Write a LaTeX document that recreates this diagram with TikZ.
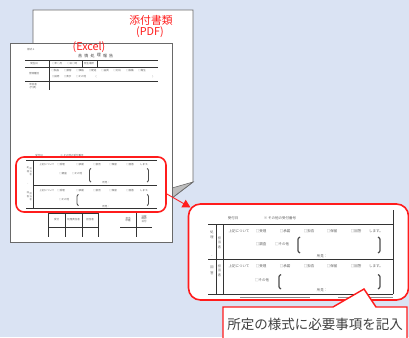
\documentclass[tikz,border=0pt]{standalone}
\usepackage{fontspec}
\setmainfont{Noto Sans CJK JP}
\usetikzlibrary{arrows.meta}
\definecolor{bg}{RGB}{218,227,243}
\definecolor{rd}{RGB}{255,28,28}
\definecolor{pgline}{RGB}{105,105,105}
\definecolor{tx}{RGB}{95,95,95}
\definecolor{lbl}{RGB}{64,64,64}
\definecolor{fold}{RGB}{190,190,190}
\begin{document}
\begin{tikzpicture}[x=1pt,y=-1pt,
  tinyt/.style={font=\fontsize{2.5}{2.8}\selectfont, text=tx, inner sep=0pt, align=center},
  smallt/.style={font=\fontsize{3.5}{3.9}\selectfont, text=tx, inner sep=0pt, align=center},
  rulethick/.style={line width=1pt, draw=black!80},
  rulethin/.style={line width=0.7pt, draw=black!80},
  brk/.style={line width=0.9pt, draw=black!70, rounded corners=0.8pt},
  redbox/.style={draw=rd, line width=1.6pt, fill=none},
  redtitle/.style={text=rd, inner sep=0pt, font=\fontsize{10.8}{12}\selectfont}]
\useasboundingbox (0,0) rectangle (409,337);
\fill[bg] (0,0) rectangle (409,337);

% ---- back page (PDF) with folded corner
\draw[pgline, line width=0.9pt, fill=white] (33,10) -- (193,10) -- (193,182) -- (172,198) -- (33,198) -- cycle;
\draw[pgline, line width=0.6pt, fill=fold] (193,182) -- (172,188) -- (172,198) -- cycle;
\node[redtitle] (pdf1) at (151,20) {添付書類};
\node[redtitle] (pdf2) at (150,32) {(PDF)};

% ---- front page (Excel)
\draw[pgline, line width=0.9pt, fill=white] (10,43) rectangle (172,242);
\node[redtitle] (xls) at (89,47.5) {(Excel)};

% top part of the form
\node[tinyt] (f1) at (31,50) {様式１};
\foreach \c [count=\i] in {苦,情,処,理,報,告}
  \node[tinyt, font=\fontsize{4}{4}\selectfont, text=black!75] (t\i) at (74+\i*6.2,55.5) {\c};
\draw[rulethick] (25,60) -- (158,60);
\draw[rulethick] (25,67) -- (158,67);
\draw[rulethick] (25,81) -- (158,81);
\draw[rulethick] (49,60) -- (49,90);
\draw[rulethin] (82,60) -- (82,67);
\draw[rulethin] (97,60) -- (97,67);
\node[tinyt] (r1a) at (34,63.5) {発生日};
\node[tinyt] (r1b) at (57,63.5) {○年○月};
\node[tinyt] (r1c) at (72,63.5) {○日○時};
\node[tinyt] (r1d) at (89,63.5) {発生場所};
\node[tinyt] (r2a) at (34,73.5) {苦情種別};
\foreach \w [count=\i] in {□製品,□接客,□価格,□配送,□品質,□対応,□設備,□衛生}
  \node[tinyt] (r2w\i) at (43+\i*12.4,70.5) {\w};
\node[tinyt] (r2b) at (55.5,77) {□説明};
\node[tinyt] (r2c) at (67.5,77) {□表示};
\node[tinyt] (r2d) at (81,77) {□その他};
\node[tinyt] (r2e) at (96,77) {(};
\node[tinyt] (r2f) at (153,77) {)};
\node[tinyt] (r3a) at (33,86) {申出者\\(代表)};

% lower part of the form
\node[tinyt] (h1) at (39,156) {受付日};
\node[tinyt] (h2) at (72,156) {※ その他の受付番号};
\draw[rulethick] (26,160) -- (157,160);
\draw[rulethick] (33,160) -- (33,208);
\draw[rulethick] (33,185) -- (157,185);
\draw[rulethin] (26,208) -- (157,208);
\foreach \c/\yy in {処/168,理/171.5,・/184,回/193,答/196.5}
  \node[tinyt, font=\fontsize{2.2}{2.2}\selectfont] at (28,\yy) {\c};
\foreach \c/\yy in {担/169,当/172,者/175,担/193.5,当/196.5,者/199.5}
  \node[tinyt, font=\fontsize{2.2}{2.2}\selectfont] at (30.8,\yy) {\c};
\foreach \yy [count=\k] in {165,191}{
  \node[tinyt] (fa\k) at (47,\yy) {上記について};
  \node[tinyt] at (61,\yy) {□受理};
  \node[tinyt] at (80,\yy) {□承諾};
  \node[tinyt] at (97,\yy) {□拒否};
  \node[tinyt] at (113,\yy) {□保留};
  \node[tinyt] at (130,\yy) {□回答};
  \node[tinyt] at (145,\yy) {します。};
}
\node[tinyt] (fb1) at (63,174) {□調査};
\node[tinyt] (fb2) at (77,174) {□その他};
\draw[brk] (91,168.5) -- (89.5,169.5) -- (89.5,181) -- (91,182);
\draw[brk] (147,168.5) -- (148.5,169.5) -- (148.5,181) -- (147,182);
\node[tinyt] (fb3) at (106,183) {所見：};
\node[tinyt] (fc1) at (64,200) {□その他};
\draw[brk] (78.5,194.5) -- (77,195.5) -- (77,204.5) -- (78.5,205.5);
\draw[brk] (147,194.5) -- (148.5,195.5) -- (148.5,204.5) -- (147,205.5);
\node[tinyt] (fc3) at (106,207) {所見：};

% bottom stamp tables
\draw[rulethin] (48,213) -- (98,213);
\draw[rulethin] (48,227) -- (98,227);
\foreach \xx in {48,65,82,98} \draw[rulethin] (\xx,213) -- (\xx,237);
\node[tinyt] (s1) at (56.5,220) {受付};
\node[tinyt] (s2) at (73.5,220) {処理責任者};
\node[tinyt] (s3) at (90,220) {担当者};
\draw[rulethin] (120,227) -- (152,227);
\draw[rulethin] (136,213) -- (136,237);
\node[tinyt] (s4) at (128,219.5) {担当\\印鑑};
\node[tinyt] (s5) at (144,219) {決裁\\確認\\日付};

% red selection on the front page
\node[redbox, rounded corners=8pt, minimum width=150pt, minimum height=55pt, inner sep=0pt] (sel) at (91,184.5) {};

% ---- arrow to the enlarged view
\coordinate (a1) at (166,193.5);
\coordinate (a2) at (190.5,207.5);
\draw[rd, line width=0.9pt, -{Triangle[length=8pt,width=8.5pt]}] (a1) -- (a2);

% ---- enlarged view
\node[redbox, fill=white, rounded corners=12pt, minimum width=220pt, minimum height=96pt, inner sep=0pt] (zoomv) at (298.5,252) {};
\draw[black!45, line width=1.6pt] (240,297.5) -- (310,297.5);
\draw[black!45, line width=1.6pt] (338,297.5) -- (393,297.5);
\node[smallt] (zh1) at (233,218) {受付日};
\node[smallt] (zh2) at (280,218) {※ その他の受付番号};
\draw[rulethick] (393,210) -- (393,294);
\draw[rulethick] (208,224) -- (393,224);
\draw[rulethick] (216,224) -- (216,294);
\draw[rulethick] (223,224) -- (223,294);
\draw[rulethick] (208,259.5) -- (393,259.5);
\draw[rulethick] (208,294) -- (393,294);
\foreach \c/\yy in {処/232,理/237,・/257,回/267.5,答/273}
  \node[smallt, font=\fontsize{3.2}{3.2}\selectfont] at (212,\yy) {\c};
\foreach \c/\yy in {担/238,当/242.5,者/247,担/266,当/270.5,者/275}
  \node[smallt, font=\fontsize{3.2}{3.2}\selectfont] at (219.5,\yy) {\c};
\foreach \yy [count=\k] in {231,266}{
  \node[smallt] (za\k) at (239,\yy) {上記について};
  \node[smallt] at (261,\yy) {□受理};
  \node[smallt] at (285,\yy) {□承諾};
  \node[smallt] at (309,\yy) {□拒否};
  \node[smallt] at (332,\yy) {□保留};
  \node[smallt] at (356,\yy) {□回答};
  \node[smallt] at (376,\yy) {します。};
}
\node[smallt] (zb1) at (261,244) {□調査};
\node[smallt] (zb2) at (282,244) {□その他};
\draw[brk, line width=1.2pt] (300,237) -- (298,238.5) -- (298,251.5) -- (300,253);
\draw[brk, line width=1.2pt] (378,237) -- (380,238.5) -- (380,251.5) -- (378,253);
\node[smallt] (zb3) at (322,256) {所見：};
\node[smallt] (zc1) at (262,280) {□その他};
\draw[brk, line width=1.2pt] (281,274.5) -- (279,276) -- (279,287.5) -- (281,289);
\draw[brk, line width=1.2pt] (378,274.5) -- (380,276) -- (380,287.5) -- (378,289);
\node[smallt] (zc3) at (322,290) {所見：};

% ---- label callout
\draw[rd, line width=1.4pt, fill=white, line join=miter] (223,307) -- (333,307) -- (364,289) -- (376,307) -- (407,307) -- (407,345) -- (223,345) -- cycle;
\node[text=lbl, inner sep=0pt, font=\fontsize{13.5}{14}\selectfont] (lbl) at (315,324) {所定の様式に必要事項を記入};
\end{tikzpicture}
\end{document}
